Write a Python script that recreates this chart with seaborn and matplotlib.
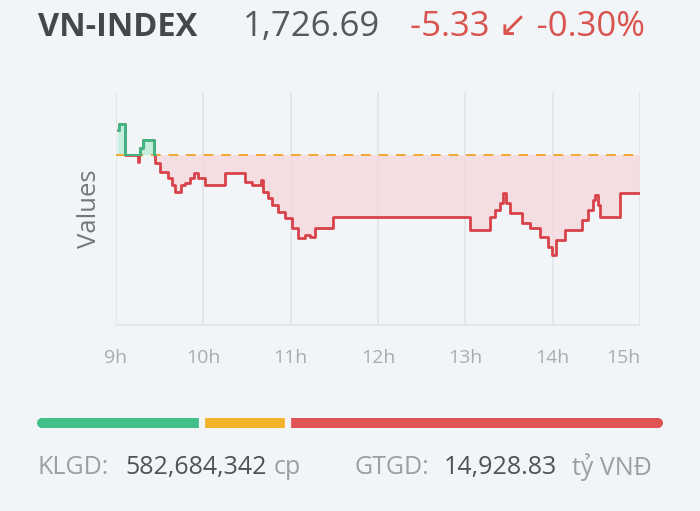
import numpy as np
import pandas as pd
import matplotlib.pyplot as plt
from matplotlib.patches import Rectangle
import seaborn as sns

# Intraday VN-INDEX (minutes after 9:00, index level)
minutes = [1.4, 2.1, 6.2, 14.4, 15.1, 15.8, 16.5, 18.5, 25.4, 26.1, 26.8, 30.2,
           35.7, 38.5, 40.5, 44.7, 47.4, 50.8, 53.6, 56.3, 61.1, 72.8, 74.9, 85.2,
           88.6, 93.4, 99.6, 101.0, 104.4, 107.2, 111.3, 116.1, 120.9, 125.0, 129.8,
           133.3, 136.7, 147.0, 149.1, 241.1, 243.2, 253.5, 256.9, 260.4, 263.8,
           265.9, 267.9, 270.7, 276.2, 278.9, 284.4, 291.3, 296.8, 299.5, 302.3,
           308.5, 315.3, 320.1, 324.3, 327.7, 329.1, 331.1, 332.5, 342.8, 346.2, 360.0]
values = [1735.53, 1736.37, 1732.02, 1732.02, 1731.04, 1732.02, 1733.00, 1734.12,
          1734.12, 1732.02, 1730.90, 1729.64, 1728.79, 1727.81, 1726.83, 1727.81,
          1728.09, 1728.79, 1729.50, 1728.79, 1727.81, 1727.81, 1729.50, 1729.50,
          1728.23, 1727.81, 1728.51, 1726.83, 1725.99, 1725.01, 1724.03, 1723.18,
          1721.78, 1720.38, 1720.80, 1720.52, 1721.78, 1721.78, 1723.32, 1723.32,
          1721.50, 1721.50, 1723.32, 1724.31, 1725.29, 1726.69, 1725.29, 1723.89,
          1723.89, 1722.48, 1721.78, 1720.52, 1719.12, 1718.00, 1720.10, 1721.50,
          1721.50, 1722.90, 1724.31, 1725.71, 1726.41, 1725.01, 1723.32, 1723.32,
          1726.69, 1726.69]
reference = 1732.02

hour_ticks = [9, 10, 11, 12, 13, 14, 15]
hour_labels = ['9h', '10h', '11h', '12h', '13h', '14h', '15h']

# market breadth bar (up / unchanged / down share)
breadth = [26, 14, 60]
breadth_colors = ['#43bf8a', '#f2b22a', '#e05456']

header_name = 'VN-INDEX'
header_close = '1,726.69'
header_change = '-5.33 ↙ -0.30%'

BG = '#f2f5f7'
RED = '#d8434a'
GREEN = '#3db883'

sns.set_theme(style='white', rc={'figure.facecolor': BG, 'axes.facecolor': BG})
plt.rcParams['font.family'] = ['Open Sans', 'DejaVu Sans']

df = pd.DataFrame({'hour': 9 + np.array(minutes) / 60, 'value': values})

fig = plt.figure(figsize=(7, 5.11), dpi=100)
ax = fig.add_axes([116 / 700, 1 - 325 / 511, 524 / 700, 233 / 511])

# fills against the reference level
ax.fill_between(df['hour'], np.minimum(df['value'], reference), reference,
                step='post', color='#f7d9dc', alpha=0.8, lw=0)
ax.fill_between(df['hour'], np.maximum(df['value'], reference), reference,
                step='post', color='#bfeedb', alpha=0.9, lw=0)

sns.lineplot(data=df, x='hour', y='value', ax=ax, color=RED, lw=2.0,
             drawstyle='steps-post', estimator=None)
green = sns.lineplot(data=df, x='hour', y='value', ax=ax, color=GREEN, lw=2.0,
                     drawstyle='steps-post', estimator=None).lines[-1]
green.set_clip_path(Rectangle((8, reference - 0.15), 10, 50, transform=ax.transData))

ax.axhline(reference, color='#f0a830', lw=1.4, ls=(0, (5, 4)), zorder=1)

ax.set_xlim(9, 15)
ax.set_ylim(1708.2, 1740.9)
ax.set_xticks(hour_ticks)
ax.set_xticklabels(hour_labels)
ax.set_yticks([])
ax.grid(axis='x', color='#e1e5e8', lw=1.2)
for s in ['top', 'left', 'right']:
    ax.spines[s].set_visible(False)
ax.spines['bottom'].set_color('#e1e5e8')
ax.spines['bottom'].set_linewidth(1.2)
ax.tick_params(axis='x', length=0, pad=17, labelsize=14, labelcolor='#a9adb1')
ax.get_xticklabels()[-1].set_horizontalalignment('right')
ax.set_xlabel('')
ax.set_ylabel('Values', fontsize=18.5, color='#75797c', labelpad=10)

# breadth bar
bx = fig.add_axes([42 / 700, 1 - 433 / 511, 616 / 700, 20 / 511])
total = sum(breadth)
left = np.cumsum([0] + breadth[:-1])
bx.barh([0] * 3, breadth, left=left, height=1, color=breadth_colors, lw=0)
bx.scatter([0, total], [0, 0], s=52, color=[breadth_colors[0], breadth_colors[-1]],
           lw=0, zorder=3, clip_on=False)
for b in left[1:]:
    bx.axvline(b, color=BG, lw=4.5, zorder=4)
bx.set_xlim(0, total)
bx.set_ylim(-1, 1)
bx.axis('off')

# header
y_top = 1 - 27 / 511
fig.text(38 / 700, y_top, header_name, fontsize=23.5, fontweight='bold', color='#45484b', va='center')
fig.text(243 / 700, y_top, header_close, fontsize=25, color='#55595c', va='center')
fig.text(410 / 700, y_top, header_change, fontsize=25, color='#d9534f', va='center')

# footer
y_bot = 1 - 467 / 511
gray, dark = '#9b9fa3', '#4f5356'
fs = 18
fig.text(37 / 700, y_bot, 'KLGD:', fontsize=fs, color=gray, va='center')
fig.text(125 / 700, y_bot, '582,684,342', fontsize=fs, color=dark, va='center')
fig.text(274 / 700, y_bot, 'cp', fontsize=fs, color=gray, va='center')
fig.text(355 / 700, y_bot, 'GTGD:', fontsize=fs, color=gray, va='center')
fig.text(444 / 700, y_bot, '14,928.83', fontsize=fs, color=dark, va='center')
fig.text(572 / 700, y_bot, 'tỷ VNĐ', fontsize=fs, color=gray, va='center')

fig.savefig('out.png', dpi=100, facecolor=BG)
